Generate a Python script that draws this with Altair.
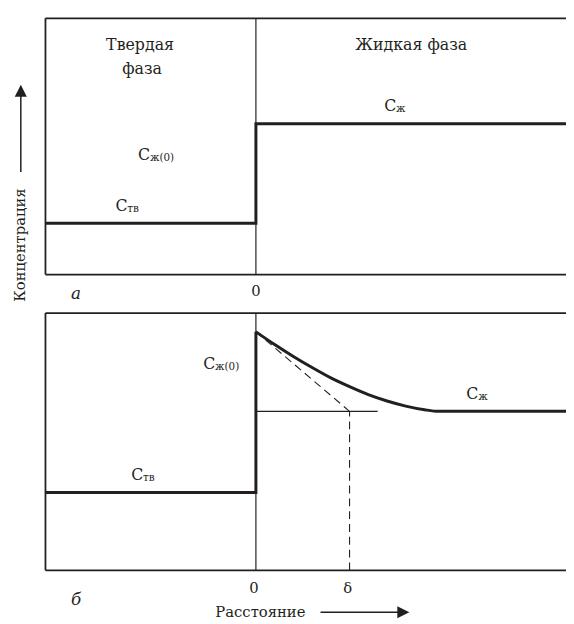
import altair as alt
import pandas as pd

# ---------------- data ----------------
X_MIN, X_MAX = -2.247, 3.311          # distance (interface = 0, delta = 1)
YA_MAX, YB_MAX = 1.699, 1.618          # concentration (C_liquid = 1)

# panel a: step profile
a_x = [X_MIN, 0.0, 0.0, X_MAX]
a_y = [0.34, 0.34, 1.0, 1.0]

# panel б: solid part + step
b_step_x = [X_MIN, 0.0, 0.0]
b_step_y = [0.49, 0.49, 1.5]
# panel б: boundary layer curve
b_curve_x = [0.0, 0.2, 0.4, 0.6, 0.8, 1.0, 1.2, 1.4, 1.6, 1.8, 1.95, X_MAX]
b_curve_y = [1.5, 1.42, 1.345, 1.275, 1.21, 1.155, 1.105, 1.065, 1.033, 1.01, 1.0, 1.0]
tangent_x = [0.0, 1.0]
tangent_y = [1.5, 1.0]
delta = 1.0
c_liq = 1.0
thin_end = 1.3

# labels (C + subscript)
a_lab_x = [1.37, -1.258, -1.5]
a_lab_y = [1.118, 0.791, 0.451]
a_lab_sub = ["ж", "ж(0)", "тв"]
b_lab_x = [-0.563, -1.332, 2.247]
b_lab_y = [1.296, 0.601, 1.110]
b_lab_sub = ["ж(0)", "тв", "ж"]

phase_text = ["Твердая", "фаза", "Жидкая фаза"]
phase_x = [-1.237, -1.216, 1.658]
phase_y = [1.523, 1.359, 1.523]

tick_text_b = ["0", "δ"]
tick_x_b = [0.0, delta]

# ---------------- style / layout ----------------
W = 528
HA, HB = 260, 261
GAP = 39
TOP_B = HA + GAP              # pixel top of panel б
BOT_B = TOP_B + HB
H = 600
INK = "#231f20"
FONT = "DejaVu Serif"


def X(field="x"):
    return alt.X(f"{field}:Q", scale=alt.Scale(domain=[X_MIN, X_MAX], nice=False, zero=False), axis=None)


def YA(field="y"):
    return alt.Y(f"{field}:Q", scale=alt.Scale(domain=[0, YA_MAX], range=[HA, 0], nice=False, zero=False), axis=None)


def YB(field="y"):
    return alt.Y(f"{field}:Q", scale=alt.Scale(domain=[0, YB_MAX], range=[BOT_B, TOP_B], nice=False, zero=False), axis=None)


one = alt.Data(values=[{"k": 1}])


def frame(top, bottom):
    rules = []
    for yy in (top, bottom):
        rules.append(alt.Chart(one).mark_rule(color=INK, strokeWidth=1.8).encode(
            x=alt.value(0), x2=alt.value(W), y=alt.value(yy)))
    rules.append(alt.Chart(one).mark_rule(color=INK, strokeWidth=1.8).encode(
        x=alt.value(0), y=alt.value(top), y2=alt.value(bottom)))
    return rules


def divider(ymax, Y):
    df = pd.DataFrame({"x": [0.0], "y": [0.0], "y2": [ymax]})
    return alt.Chart(df).mark_rule(color=INK, strokeWidth=1.2).encode(
        x=X(), y=Y(), y2="y2:Q")


def c_labels(xs, ys, subs, Y):
    df = pd.DataFrame({"x": xs, "y": ys, "main": ["C"] * len(xs), "sub": subs})
    c = alt.Chart(df).mark_text(align="left", baseline="middle", font=FONT,
                                fontSize=16, color=INK).encode(
        x=X(), y=Y(), text="main:N")
    s = alt.Chart(df).mark_text(align="left", baseline="middle", font=FONT,
                                fontSize=10.5, color=INK, dx=12, dy=3).encode(
        x=X(), y=Y(), text="sub:N")
    return [c, s]


def simple_text(t, x, y, size=15, italic=False, angle=0):
    kw = dict(align="center", baseline="middle", font=FONT, fontSize=size, color=INK, text=t)
    if italic:
        kw["fontStyle"] = "italic"
    if angle:
        kw["angle"] = angle
    return alt.Chart(one).mark_text(**kw).encode(x=alt.value(x), y=alt.value(y))


# ---------- panel a ----------
a_df = pd.DataFrame({"x": a_x, "y": a_y, "i": range(len(a_x))})
a_line = alt.Chart(a_df).mark_line(color=INK, strokeWidth=3, strokeJoin="miter").encode(
    x=X(), y=YA(), order="i:Q")

ph_df = pd.DataFrame({"x": phase_x, "y": phase_y, "t": phase_text})
phases = alt.Chart(ph_df).mark_text(align="center", baseline="middle", font=FONT,
                                    fontSize=16, color=INK).encode(
    x=X(), y=YA(), text="t:N")

a_zero = alt.Chart(pd.DataFrame({"x": [0.0], "t": ["0"]})).mark_text(
    align="center", baseline="middle", font=FONT, fontSize=15, color=INK).encode(
    x=X(), y=alt.value(HA + 17), text="t:N")

y_title = simple_text("Концентрация", -26, 230, angle=270)
y_shaft = alt.Chart(one).mark_rule(color=INK, strokeWidth=1.5).encode(
    x=alt.value(-25), y=alt.value(156), y2=alt.value(78))
y_head = alt.Chart(one).mark_point(shape="M-1,1L0,-1L1,1Z", filled=True, size=150,
                                   color=INK, opacity=1).encode(
    x=alt.value(-25), y=alt.value(73.5))

# ---------- panel б ----------
bs_df = pd.DataFrame({"x": b_step_x, "y": b_step_y, "i": range(len(b_step_x))})
b_step = alt.Chart(bs_df).mark_line(color=INK, strokeWidth=3, strokeJoin="miter").encode(
    x=X(), y=YB(), order="i:Q")
bc_df = pd.DataFrame({"x": b_curve_x, "y": b_curve_y})
b_curve = alt.Chart(bc_df).mark_line(color=INK, strokeWidth=3, interpolate="monotone").encode(
    x=X(), y=YB())

tan_df = pd.DataFrame({"x": tangent_x, "y": tangent_y})
tangent = alt.Chart(tan_df).mark_line(color=INK, strokeWidth=1.1, strokeDash=[8, 5]).encode(
    x=X(), y=YB())
dv_df = pd.DataFrame({"x": [delta], "y": [0.0], "y2": [c_liq]})
delta_rule = alt.Chart(dv_df).mark_rule(color=INK, strokeWidth=1.1, strokeDash=[8, 5]).encode(
    x=X(), y=YB(), y2="y2:Q")
th_df = pd.DataFrame({"x": [0.0], "x2": [thin_end], "y": [c_liq]})
thin = alt.Chart(th_df).mark_rule(color=INK, strokeWidth=1.2).encode(
    x=X(), x2="x2:Q", y=YB())

tk_df = pd.DataFrame({"x": tick_x_b, "t": tick_text_b})
b_ticks = alt.Chart(tk_df).mark_text(align="center", baseline="middle", font=FONT,
                                     fontSize=15, color=INK, dx=-2).encode(
    x=X(), y=alt.value(BOT_B + 18), text="t:N")

x_title = simple_text("Расстояние", 218, BOT_B + 42)
x_shaft = alt.Chart(one).mark_rule(color=INK, strokeWidth=1.5).encode(
    x=alt.value(279), x2=alt.value(360), y=alt.value(BOT_B + 42.5))
x_head = alt.Chart(one).mark_point(shape="M-1,-1L1,0L-1,1Z", filled=True, size=150,
                                   color=INK, opacity=1).encode(
    x=alt.value(363), y=alt.value(BOT_B + 42.5))

chart = alt.layer(
    *frame(0, HA), divider(YA_MAX, YA), a_line, phases,
    *c_labels(a_lab_x, a_lab_y, a_lab_sub, YA), a_zero,
    simple_text("а", 31, HA + 20, size=17, italic=True),
    y_title, y_shaft, y_head,
    *frame(TOP_B, BOT_B), divider(YB_MAX, YB), thin, tangent, delta_rule, b_step, b_curve,
    *c_labels(b_lab_x, b_lab_y, b_lab_sub, YB), b_ticks,
    simple_text("б", 31, BOT_B + 30, size=17, italic=True),
    x_title, x_shaft, x_head,
).resolve_scale(y="independent").properties(
    width=W, height=H,
    autosize=alt.AutoSizeParams(type="none"),
    padding={"left": 38, "top": 6, "right": 0, "bottom": 10},
).configure_view(stroke=None)

chart.save("out.html", embed_options={"renderer": "svg", "actions": False})
